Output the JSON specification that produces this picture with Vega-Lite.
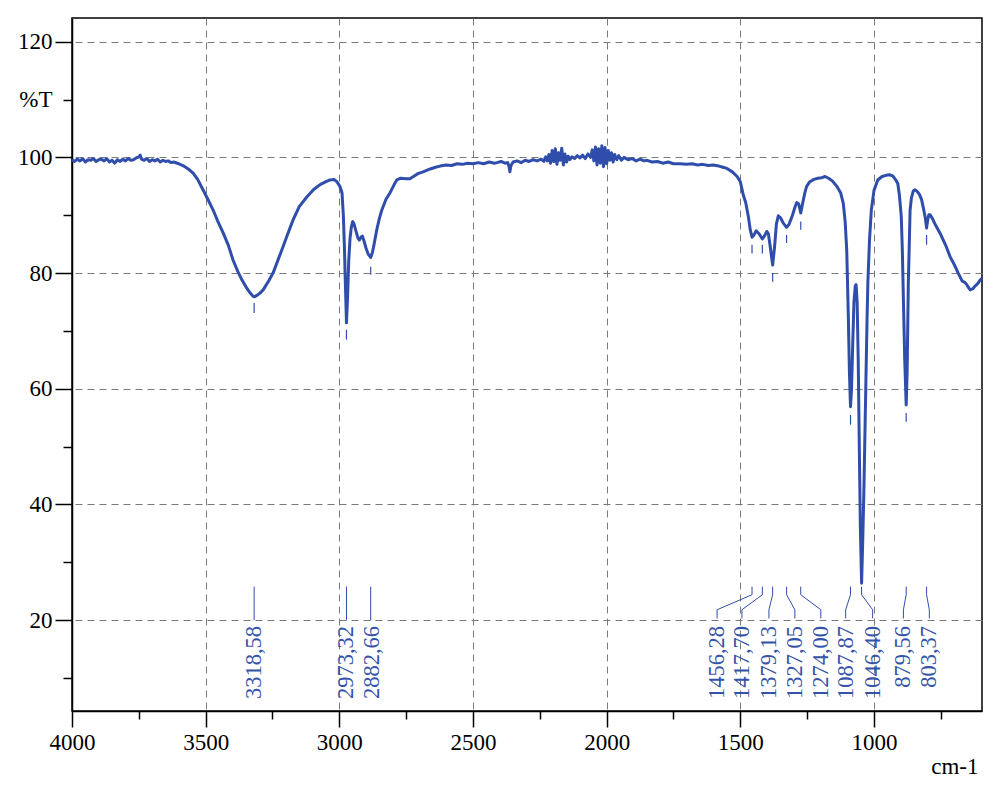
{
  "$schema": "https://vega.github.io/schema/vega-lite/v6.json",
  "autosize": "none",
  "padding": {"left": 72, "top": 18, "right": 21, "bottom": 79},
  "width": 910,
  "height": 693,
  "background": "white",
  "config": {
    "view": {"stroke": "black", "strokeWidth": 1.5},
    "axis": {
      "domainColor": "black", "domainWidth": 1.5,
      "tickColor": "black", "tickWidth": 1.5,
      "labelFont": "Liberation Serif", "labelFontSize": 23, "labelColor": "black",
      "titleFont": "Liberation Serif", "titleFontSize": 23, "titleColor": "black", "titleFontWeight": "normal",
      "labelFlush": false, "labelOverlap": false, "labelBound": false
    }
  },
  "datasets": {
    "spec": [
      {"w":4000,"t":99.6},{"w":3990,"t":99.3},{"w":3980,"t":99.7},{"w":3970,"t":99.4},{"w":3960,"t":99.8},{"w":3950,"t":99.2},{"w":3940,"t":99.6},{"w":3930,"t":99.5},{"w":3920,"t":99.8},{"w":3910,"t":99.3},{"w":3900,"t":99.6},{"w":3890,"t":99.7},{"w":3880,"t":99.4},{"w":3870,"t":99.8},{"w":3860,"t":99.2},{"w":3850,"t":99.5},{"w":3840,"t":99.0},{"w":3830,"t":99.6},{"w":3820,"t":99.3},{"w":3810,"t":99.7},{"w":3800,"t":99.4},{"w":3790,"t":99.8},{"w":3780,"t":99.5},{"w":3770,"t":99.6},{"w":3760,"t":99.9},{"w":3750,"t":100.1},{"w":3745,"t":100.4},{"w":3740,"t":99.7},{"w":3730,"t":99.5},{"w":3720,"t":99.8},{"w":3710,"t":99.3},{"w":3700,"t":99.6},{"w":3690,"t":99.4},{"w":3680,"t":99.7},{"w":3670,"t":99.2},{"w":3660,"t":99.5},{"w":3650,"t":99.3},{"w":3640,"t":99.4},{"w":3630,"t":99.1},{"w":3620,"t":99.2},
      {"w":3600,"t":98.9},{"w":3585,"t":98.6},{"w":3565,"t":98.0},{"w":3547,"t":97.3},{"w":3530,"t":96.2},{"w":3510,"t":94.4},{"w":3490,"t":92.6},{"w":3472,"t":90.9},{"w":3455,"t":89.0},{"w":3435,"t":87.0},{"w":3415,"t":84.8},{"w":3398,"t":82.3},{"w":3380,"t":80.3},{"w":3364,"t":78.8},{"w":3345,"t":77.3},{"w":3334,"t":76.6},{"w":3325,"t":76.1},{"w":3318.58,"t":75.9},{"w":3310,"t":76.1},{"w":3298,"t":76.5},{"w":3285,"t":77.1},{"w":3265,"t":78.6},{"w":3248,"t":80.0},{"w":3230,"t":82.2},{"w":3211,"t":84.5},{"w":3192,"t":86.9},{"w":3173,"t":89.2},{"w":3150,"t":91.5},{"w":3121,"t":93.2},{"w":3095,"t":94.5},{"w":3072,"t":95.3},{"w":3050,"t":95.8},{"w":3035,"t":96.1},{"w":3020,"t":96.2},{"w":3009,"t":95.8},{"w":2998,"t":95.0},{"w":2990,"t":93.9},{"w":2985,"t":90.0},{"w":2981,"t":84.5},{"w":2977,"t":77.5},{"w":2973.32,"t":71.4},{"w":2969,"t":76.0},{"w":2965,"t":82.0},{"w":2960,"t":86.0},{"w":2955,"t":88.0},{"w":2950,"t":88.9},{"w":2945,"t":88.5},{"w":2938,"t":87.3},{"w":2930,"t":86.0},{"w":2925,"t":85.7},{"w":2919,"t":86.2},{"w":2914,"t":86.4},{"w":2908,"t":85.6},{"w":2900,"t":84.3},{"w":2892,"t":83.3},{"w":2882.66,"t":82.7},{"w":2876,"t":83.6},{"w":2870,"t":85.0},{"w":2860,"t":87.5},{"w":2850,"t":89.5},{"w":2841,"t":90.9},{"w":2825,"t":92.8},{"w":2810,"t":93.9},{"w":2795,"t":95.3},{"w":2785,"t":96.1},{"w":2770,"t":96.4},{"w":2750,"t":96.3},{"w":2736,"t":96.3},{"w":2720,"t":96.8},{"w":2706,"t":97.2},{"w":2687,"t":97.5},{"w":2660,"t":98.0},{"w":2640,"t":98.3},{"w":2623,"t":98.5},{"w":2600,"t":98.7},{"w":2580,"t":98.6},{"w":2560,"t":98.9},{"w":2540,"t":98.8},{"w":2520,"t":99.0},{"w":2500,"t":98.9},{"w":2480,"t":99.1},{"w":2460,"t":98.9},{"w":2440,"t":99.2},{"w":2420,"t":99.0},{"w":2410,"t":99.1},{"w":2395,"t":99.3},{"w":2380,"t":99.0},{"w":2370,"t":99.1},{"w":2365,"t":98.4},{"w":2362,"t":97.5},{"w":2358,"t":98.6},{"w":2350,"t":99.2},{"w":2335,"t":99.4},{"w":2320,"t":99.1},{"w":2305,"t":99.5},{"w":2290,"t":99.3},{"w":2275,"t":99.6},{"w":2260,"t":99.4},{"w":2245,"t":99.7},{"w":2235,"t":99.3},{"w":2228,"t":100.1},{"w":2222,"t":99.4},{"w":2216,"t":100.5},{"w":2210,"t":99.0},{"w":2204,"t":101.2},{"w":2198,"t":99.3},{"w":2192,"t":101.5},{"w":2186,"t":98.8},{"w":2180,"t":100.8},{"w":2174,"t":99.5},{"w":2168,"t":101.6},{"w":2162,"t":98.7},{"w":2156,"t":100.6},{"w":2150,"t":99.2},{"w":2144,"t":100.2},{"w":2138,"t":99.6},{"w":2130,"t":100.1},{"w":2120,"t":99.8},{"w":2110,"t":100.3},{"w":2100,"t":99.9},{"w":2090,"t":100.4},{"w":2080,"t":99.8},{"w":2070,"t":100.6},{"w":2060,"t":100.0},{"w":2054,"t":101.3},{"w":2048,"t":99.4},{"w":2042,"t":101.8},{"w":2036,"t":98.7},{"w":2030,"t":101.5},{"w":2024,"t":99.0},{"w":2018,"t":102.0},{"w":2012,"t":98.4},{"w":2006,"t":101.7},{"w":2000,"t":98.9},{"w":1994,"t":101.2},{"w":1988,"t":99.5},{"w":1982,"t":100.8},{"w":1976,"t":99.2},{"w":1970,"t":100.5},{"w":1962,"t":99.6},{"w":1955,"t":100.3},{"w":1945,"t":99.5},{"w":1935,"t":100.0},{"w":1920,"t":99.6},{"w":1905,"t":99.8},{"w":1890,"t":99.4},{"w":1875,"t":99.7},{"w":1860,"t":99.4},{"w":1849,"t":99.5},{"w":1830,"t":99.2},{"w":1810,"t":99.3},{"w":1790,"t":99.0},{"w":1770,"t":99.2},{"w":1750,"t":98.9},{"w":1726,"t":98.9},{"w":1700,"t":98.8},{"w":1680,"t":98.9},{"w":1660,"t":98.7},{"w":1640,"t":98.8},{"w":1620,"t":98.6},{"w":1602,"t":98.7},{"w":1580,"t":98.5},{"w":1565,"t":98.3},{"w":1550,"t":98.1},{"w":1530,"t":97.5},{"w":1512,"t":96.7},{"w":1500,"t":95.8},{"w":1489,"t":93.5},{"w":1480,"t":92.2},{"w":1470,"t":89.8},{"w":1463,"t":87.5},{"w":1456.28,"t":86.2},{"w":1449,"t":86.6},{"w":1441,"t":87.3},{"w":1430,"t":86.8},{"w":1417.7,"t":85.9},{"w":1410,"t":86.4},{"w":1401,"t":87.2},{"w":1395,"t":86.8},{"w":1388,"t":84.5},{"w":1379.13,"t":81.4},{"w":1372,"t":84.5},{"w":1365,"t":88.5},{"w":1358,"t":89.9},{"w":1350,"t":89.6},{"w":1340,"t":88.7},{"w":1327.05,"t":87.9},{"w":1318,"t":88.4},{"w":1305,"t":90.0},{"w":1295,"t":91.5},{"w":1289,"t":92.2},{"w":1282,"t":92.0},{"w":1274,"t":90.4},{"w":1265,"t":92.5},{"w":1258,"t":94.0},{"w":1252,"t":95.0},{"w":1240,"t":95.8},{"w":1225,"t":96.2},{"w":1210,"t":96.4},{"w":1195,"t":96.5},{"w":1183,"t":96.7},{"w":1170,"t":96.4},{"w":1155,"t":95.9},{"w":1139,"t":95.0},{"w":1125,"t":93.9},{"w":1115,"t":92.1},{"w":1108,"t":89.0},{"w":1102,"t":84.0},{"w":1096,"t":72.5},{"w":1092,"t":63.0},{"w":1087.87,"t":56.9},{"w":1084,"t":60.0},{"w":1080,"t":67.0},{"w":1075,"t":75.0},{"w":1070,"t":77.8},{"w":1067,"t":78.0},{"w":1063,"t":75.0},{"w":1059,"t":65.0},{"w":1055,"t":50.0},{"w":1051,"t":36.0},{"w":1046.4,"t":26.4},{"w":1042,"t":34.0},{"w":1038,"t":42.0},{"w":1035,"t":49.4},{"w":1030,"t":62.0},{"w":1026,"t":72.0},{"w":1023,"t":78.3},{"w":1017,"t":85.5},{"w":1010,"t":90.9},{"w":1000,"t":94.3},{"w":986,"t":96.1},{"w":970,"t":96.7},{"w":955,"t":96.9},{"w":942,"t":97.0},{"w":930,"t":96.8},{"w":920,"t":96.2},{"w":911,"t":95.5},{"w":905,"t":93.5},{"w":898,"t":89.8},{"w":894,"t":84.0},{"w":890,"t":75.4},{"w":885,"t":65.0},{"w":879.56,"t":57.2},{"w":876,"t":63.0},{"w":874,"t":70.0},{"w":871.6,"t":78.3},{"w":868,"t":85.0},{"w":865,"t":90.9},{"w":860,"t":93.0},{"w":853,"t":94.2},{"w":847,"t":94.4},{"w":840,"t":94.2},{"w":830,"t":93.6},{"w":822,"t":92.7},{"w":815,"t":91.2},{"w":808,"t":89.5},{"w":803.37,"t":87.8},{"w":799,"t":89.2},{"w":795,"t":90.1},{"w":790,"t":90.1},{"w":780,"t":89.3},{"w":770,"t":88.3},{"w":760,"t":87.5},{"w":753,"t":86.9},{"w":740,"t":85.6},{"w":730,"t":84.6},{"w":715,"t":82.8},{"w":700,"t":81.5},{"w":685,"t":80.0},{"w":670,"t":78.6},{"w":660,"t":78.4},{"w":653,"t":78.0},{"w":645,"t":77.4},{"w":640,"t":77.1},{"w":630,"t":77.3},{"w":623,"t":77.7},{"w":616,"t":78.0},{"w":610,"t":78.3},{"w":603,"t":78.8},{"w":596,"t":79.1}
    ],
    "ticks": [
      {"w":3318.58,"a":74.85,"b":73.1},{"w":2973.32,"a":70.2,"b":68.5},{"w":2882.66,"a":81.1,"b":79.7},{"w":1456.28,"a":84.9,"b":83.4},{"w":1417.7,"a":84.9,"b":83.4},{"w":1379.13,"a":80.0,"b":78.5},{"w":1327.05,"a":86.6,"b":85.2},{"w":1274.0,"a":88.9,"b":87.5},{"w":1087.87,"a":55.5,"b":53.8},{"w":879.56,"a":55.8,"b":54.3},{"w":803.37,"a":86.6,"b":84.9}
    ],
    "leaders": [
      {"p":"3318,58","k":1,"w":3318.58,"t":25.8},{"p":"3318,58","k":2,"w":3318.58,"t":20.0},
      {"p":"2973,32","k":1,"w":2973.32,"t":25.8},{"p":"2973,32","k":2,"w":2973.32,"t":20.0},
      {"p":"2882,66","k":1,"w":2882.66,"t":25.8},{"p":"2882,66","k":2,"w":2882.66,"t":20.0},
      {"p":"1456,28","k":1,"w":1456.28,"t":25.8},{"p":"1456,28","k":2,"w":1456.28,"t":24.4},{"p":"1456,28","k":3,"w":1587,"t":21.8},{"p":"1456,28","k":4,"w":1587,"t":20.3},
      {"p":"1417,70","k":1,"w":1417.7,"t":25.8},{"p":"1417,70","k":2,"w":1417.7,"t":24.4},{"p":"1417,70","k":3,"w":1494,"t":21.8},{"p":"1417,70","k":4,"w":1494,"t":20.3},
      {"p":"1379,13","k":1,"w":1379.13,"t":25.8},{"p":"1379,13","k":2,"w":1379.13,"t":24.4},{"p":"1379,13","k":3,"w":1393,"t":21.8},{"p":"1379,13","k":4,"w":1393,"t":20.3},
      {"p":"1327,05","k":1,"w":1327.05,"t":25.8},{"p":"1327,05","k":2,"w":1327.05,"t":24.4},{"p":"1327,05","k":3,"w":1296,"t":21.8},{"p":"1327,05","k":4,"w":1296,"t":20.3},
      {"p":"1274,00","k":1,"w":1274.0,"t":25.8},{"p":"1274,00","k":2,"w":1274.0,"t":24.4},{"p":"1274,00","k":3,"w":1199,"t":21.8},{"p":"1274,00","k":4,"w":1199,"t":20.3},
      {"p":"1087,87","k":1,"w":1087.87,"t":25.8},{"p":"1087,87","k":2,"w":1087.87,"t":24.4},{"p":"1087,87","k":3,"w":1106,"t":21.8},{"p":"1087,87","k":4,"w":1106,"t":20.3},
      {"p":"1046,40","k":1,"w":1046.4,"t":25.8},{"p":"1046,40","k":2,"w":1046.4,"t":24.4},{"p":"1046,40","k":3,"w":1005,"t":21.8},{"p":"1046,40","k":4,"w":1005,"t":20.3},
      {"p":"879,56","k":1,"w":879.56,"t":25.8},{"p":"879,56","k":2,"w":879.56,"t":24.4},{"p":"879,56","k":3,"w":890,"t":21.8},{"p":"879,56","k":4,"w":890,"t":20.3},
      {"p":"803,37","k":1,"w":803.37,"t":25.8},{"p":"803,37","k":2,"w":803.37,"t":24.4},{"p":"803,37","k":3,"w":793,"t":21.8},{"p":"803,37","k":4,"w":793,"t":20.3}
    ],
    "labels": [
      {"p":"3318,58","lw":3318.58},{"p":"2973,32","lw":2973.32},{"p":"2882,66","lw":2876},{"p":"1456,28","lw":1587},{"p":"1417,70","lw":1494},{"p":"1379,13","lw":1393},{"p":"1327,05","lw":1296},{"p":"1274,00","lw":1199},{"p":"1087,87","lw":1106},{"p":"1046,40","lw":1005},{"p":"879,56","lw":890},{"p":"803,37","lw":793}
    ]
  },
  "resolve": {"axis": {"x": "independent", "y": "independent"}},
  "layer": [
    {
      "data": {"name": "spec"},
      "mark": {"type": "line", "color": "#2f4dab", "strokeWidth": 3, "strokeJoin": "round"},
      "encoding": {
        "x": {"field": "w", "type": "quantitative",
          "scale": {"domain": [596, 4000], "reverse": true, "nice": false, "zero": false},
          "axis": {"orient": "bottom", "values": [4000, 3500, 3000, 2500, 2000, 1500, 1000], "format": "d",
            "tickSize": 16, "labelPadding": 4, "grid": true, "gridDash": [7, 5], "gridColor": "#7a7a7a", "gridWidth": 1,
            "title": "cm-1", "titleAnchor": "start", "titleAlign": "right", "titlePadding": 1, "titleX": 906}},
        "y": {"field": "t", "type": "quantitative",
          "scale": {"domain": [4.3, 124.1], "nice": false, "zero": false},
          "axis": {"orient": "left", "values": [20, 40, 60, 80, 100, 120], "tickSize": 17, "labelPadding": 3,
            "grid": true, "gridDash": [7, 5], "gridColor": "#7a7a7a", "gridWidth": 1, "title": null}}
      }
    },
    {
      "data": {"name": "ticks"},
      "mark": {"type": "rule", "color": "#2f4dab", "strokeWidth": 1.2},
      "encoding": {
        "x": {"field": "w", "type": "quantitative",
          "axis": {"orient": "bottom", "values": [3750, 3250, 2750, 2250, 1750, 1250, 750], "tickSize": 8, "labels": false, "grid": false, "domain": false, "title": null}},
        "y": {"field": "a", "type": "quantitative",
          "axis": {"orient": "left", "values": [10, 30, 50, 70, 90, 110], "tickSize": 9, "labelPadding": 11, "labelExpr": "datum.value == 110 ? '%T' : ''", "grid": false, "domain": false, "title": null}},
        "y2": {"field": "b"}
      }
    },
    {
      "data": {"name": "leaders"},
      "mark": {"type": "line", "color": "#2f4dab", "strokeWidth": 1},
      "encoding": {
        "x": {"field": "w", "type": "quantitative", "axis": null},
        "y": {"field": "t", "type": "quantitative", "axis": null},
        "detail": {"field": "p"},
        "order": {"field": "k", "type": "quantitative"}
      }
    },
    {
      "data": {"name": "labels"},
      "mark": {"type": "text", "angle": 270, "align": "right", "baseline": "middle", "font": "Liberation Serif", "fontSize": 22.5, "color": "#3553a8"},
      "encoding": {
        "x": {"field": "lw", "type": "quantitative", "axis": null},
        "y": {"datum": 19.0, "type": "quantitative", "axis": null},
        "text": {"field": "p"}
      }
    }
  ]
}
